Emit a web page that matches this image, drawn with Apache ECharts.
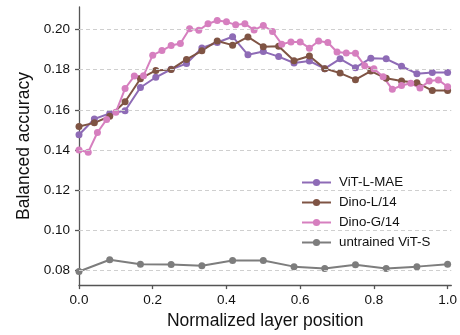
<!DOCTYPE html>
<html>
<head>
<meta charset="utf-8">
<script src="https://cdn.jsdelivr.net/npm/echarts@6/dist/echarts.min.js"></script>
<style>
  html, body { margin: 0; padding: 0; background: #fff; }
  #chart { width: 460px; height: 335px; }
</style>
</head>
<body>
<div id="chart"></div>
<script>
// balanced accuracy per layer
var vitLMae = [0.1476, 0.1554, 0.1582, 0.1595, 0.1711, 0.1762, 0.1802, 0.1830, 0.1908,
  0.1935, 0.1964, 0.1874, 0.1890, 0.1865, 0.1833, 0.1843, 0.1805, 0.1854, 0.1810,
  0.1857, 0.1854, 0.1817, 0.1780, 0.1786, 0.1786];
var dinoL14 = [0.1517, 0.1535, 0.1568, 0.1640, 0.1755, 0.1796, 0.1801, 0.1851, 0.1894,
  0.1943, 0.1922, 0.1963, 0.1914, 0.1917, 0.1844, 0.1868, 0.1805, 0.1783, 0.1750,
  0.1793, 0.1757, 0.1744, 0.1735, 0.1696, 0.1696];
var dinoG14 = [0.1400, 0.1389, 0.1487, 0.1552, 0.1588, 0.1706, 0.1768, 0.1770, 0.1872,
  0.1895, 0.1920, 0.1930, 0.2004, 0.1996, 0.2028, 0.2045, 0.2038, 0.2023, 0.2029,
  0.1997, 0.2020, 0.1990, 0.1927, 0.1938, 0.1938, 0.1907, 0.1943, 0.1935, 0.1888,
  0.1883, 0.1882, 0.1820, 0.1805, 0.1765, 0.1702, 0.1721, 0.1732, 0.1708, 0.1743,
  0.1749, 0.1715];
var untrainedVitS = [0.0795, 0.0853, 0.0831, 0.0829, 0.0823, 0.0850, 0.0850, 0.0819,
  0.0810, 0.0828, 0.0810, 0.0819, 0.0831];

var seriesNames = ['ViT-L-MAE', 'Dino-L/14', 'Dino-G/14', 'untrained ViT-S'];
var seriesColors = ['#8e6bb6', '#7f5444', '#d67fbf', '#7d7d7d'];
var xTicks = [0, 0.2, 0.4, 0.6, 0.8, 1.0];
var yTicks = [0.08, 0.10, 0.12, 0.14, 0.16, 0.18, 0.20];

var font = '"Liberation Sans", Arial, sans-serif';
var axisColor = '#555';

// x = layer index / (layers) -> normalized layer position
function toPoints(values) {
  var n = values.length - 1;
  return values.map(function (v, i) { return [i / n, v]; });
}

var chart = echarts.init(document.getElementById('chart'), null, { renderer: 'canvas' });

var lines = [vitLMae, dinoL14, dinoG14, untrainedVitS].map(function (vals, k) {
  return {
    name: seriesNames[k],
    type: 'line',
    data: toPoints(vals),
    z: 3,
    symbol: 'circle',
    symbolSize: 7,
    showAllSymbol: true,
    color: seriesColors[k],
    lineStyle: { width: 2, color: seriesColors[k] },
    itemStyle: { color: seriesColors[k] },
    emphasis: { disabled: true },
    animation: false
  };
});

// dashed horizontal grid lines
var gridSeries = {
  name: 'grid',
  type: 'line',
  data: [],
  z: 1,
  silent: true,
  animation: false,
  markLine: {
    silent: true,
    symbol: ['none', 'none'],
    label: { show: false },
    animation: false,
    lineStyle: { color: '#cfcfcf', type: [4, 3], width: 1 },
    emphasis: { disabled: true },
    data: yTicks.map(function (v) { return { yAxis: v }; })
  }
};

var option = {
  backgroundColor: '#fff',
  animation: false,
  grid: { left: 79, right: 7, top: 7, bottom: 43 },
  legend: {
    data: seriesNames,
    orient: 'vertical',
    left: 296,
    top: 171,
    itemWidth: 29,
    itemHeight: 9,
    itemGap: 7,
    textStyle: { fontFamily: font, fontSize: 13.3, color: '#111', padding: [0, 0, 0, 3] }
  },
  xAxis: {
    type: 'value',
    min: 0,
    max: 1.01,
    interval: 0.2,
    name: 'Normalized layer position',
    nameLocation: 'middle',
    nameGap: 24,
    nameTextStyle: { fontFamily: font, fontSize: 17.5, color: '#111' },
    axisLine: { show: true, lineStyle: { color: axisColor, width: 1.3 } },
    axisTick: { show: true, length: 4, customValues: xTicks, lineStyle: { color: axisColor, width: 1.3 } },
    axisLabel: {
      customValues: xTicks,
      margin: 8,
      fontFamily: font, fontSize: 13.5, color: '#111',
      formatter: function (v) { return v.toFixed(1); }
    },
    splitLine: { show: false }
  },
  yAxis: {
    type: 'value',
    min: 0.0727,
    max: 0.2112,
    name: 'Balanced accuracy',
    nameLocation: 'middle',
    nameGap: 44,
    nameTextStyle: { fontFamily: font, fontSize: 17.5, color: '#111' },
    axisLine: { show: true, lineStyle: { color: axisColor, width: 1.3 } },
    axisTick: { show: true, length: 4, customValues: yTicks, lineStyle: { color: axisColor, width: 1.3 } },
    axisLabel: {
      customValues: yTicks,
      margin: 9,
      fontFamily: font, fontSize: 13.5, color: '#111',
      formatter: function (v) { return v.toFixed(2); }
    },
    splitLine: { show: false }
  },
  series: [gridSeries].concat(lines)
};

chart.setOption(option);
</script>
</body>
</html>
